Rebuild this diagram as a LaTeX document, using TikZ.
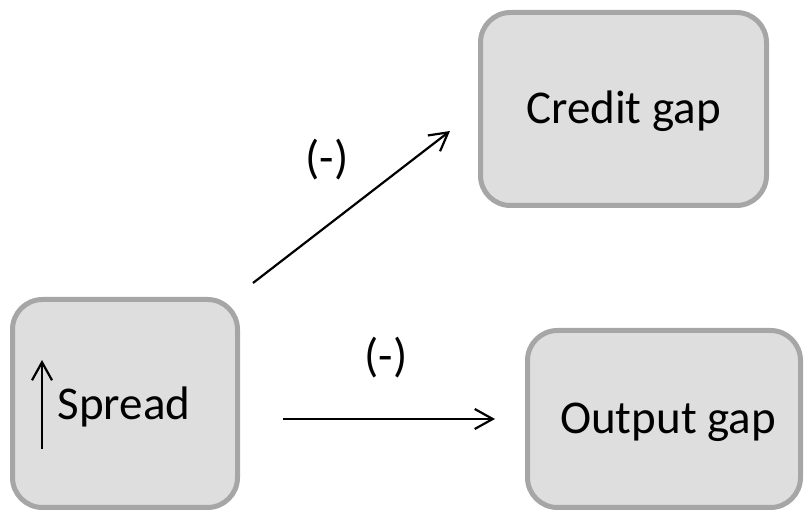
\documentclass[tikz,border=0pt]{standalone}
\usepackage{fontspec}
\setmainfont{Carlito}
\usetikzlibrary{arrows.meta}
\definecolor{boxfill}{HTML}{DEDEDE}
\definecolor{boxline}{HTML}{A6A6A6}
\tikzset{
  label font/.style={font=\fontsize{23.5}{28}\selectfont},
  box/.style={draw=boxline, fill=boxfill, line width=2.5pt, rounded corners=15pt,
    inner sep=0pt, text height=14.8pt, text depth=0pt, label font},
  link/.style={line width=1.1pt, -{Straight Barb[length=9pt,width=10pt,line width=1.1pt]}},
  sign/.style={inner sep=0pt, label font}
}
\begin{document}
\begin{tikzpicture}[x=0.5pt, y=-0.5pt]
  \useasboundingbox (0,0) rectangle (805,513);
  % boxes
  \node[box, minimum width=112.5pt, minimum height=104pt] (spread) at (125,403.5) {};
  \node[inner sep=0pt, text height=14.8pt, text depth=0pt, label font]
    (spreadtxt) at (124,405) {Spread};
  \node[box, minimum width=143pt, minimum height=96.5pt] (credit) at (623.5,109) {Credit gap};
  \node[box, minimum width=136.5pt, minimum height=88.5pt] (output) at (664,419) {\hspace{4pt}Output gap};
  % rising spread marker
  \coordinate (upbot) at (42,449);
  \coordinate (uptop) at (42,360);
  \draw[link] (upbot) -- (uptop);
  % effects of the spread
  \coordinate (c0) at (253,283);
  \coordinate (c1) at (450,131);
  \coordinate (o0) at (283,419);
  \coordinate (o1) at (495,419);
  \draw[link] (c0) -- (c1);
  \draw[link] (o0) -- (o1);
  \node[sign] (s1) at (327,160) {(-)};
  \node[sign] (s2) at (386,358) {(-)};
\end{tikzpicture}
\end{document}
